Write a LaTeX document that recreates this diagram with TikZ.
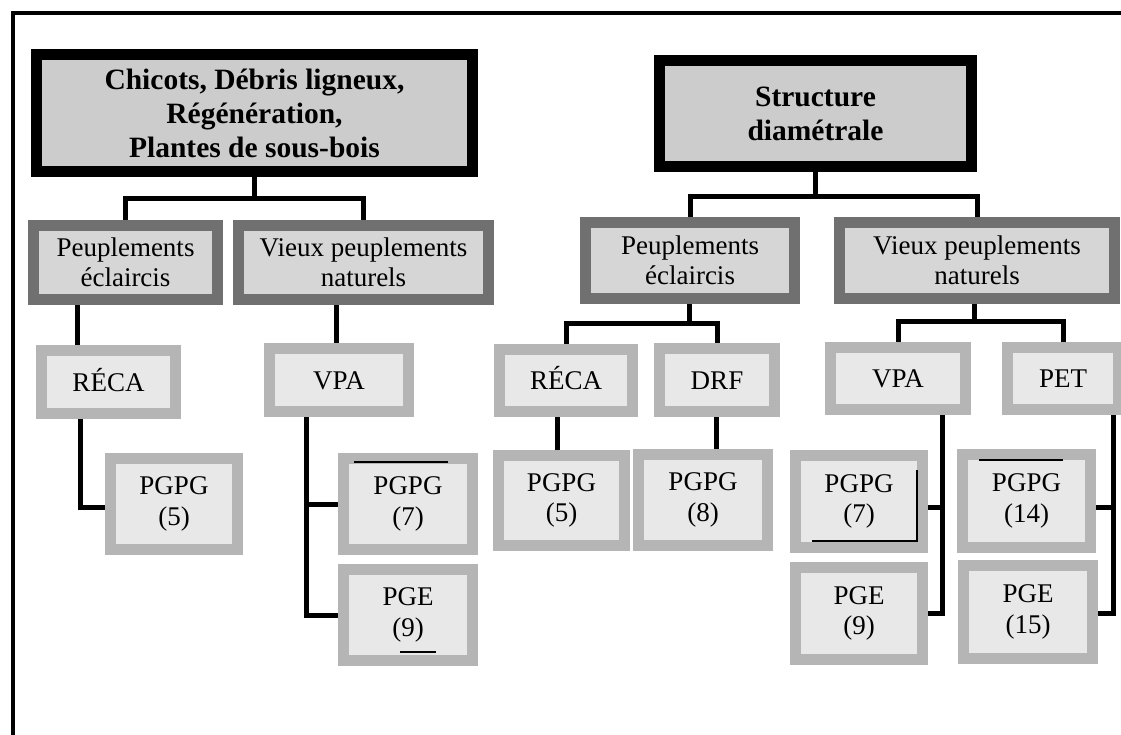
\documentclass[tikz,border=0pt]{standalone}
\usepackage{fontspec}
\setmainfont{Liberation Serif}
\usetikzlibrary{backgrounds,calc}
\definecolor{topfill}{gray}{0.80}
\definecolor{midline}{gray}{0.44}
\definecolor{midfill}{gray}{0.84}
\definecolor{lowline}{gray}{0.71}
\definecolor{lowfill}{gray}{0.91}
\begin{document}
\begin{tikzpicture}[x=1pt,y=-1pt,
  topbox/.style={draw=black, fill=topfill, line width=11pt, inner sep=0pt, align=center,
    font=\fontsize{29.5}{34}\selectfont\bfseries},
  midbox/.style={draw=midline, fill=midfill, line width=11pt, inner sep=0pt, align=center,
    font=\fontsize{27}{30.5}\selectfont},
  lowbox/.style={draw=lowline, fill=lowfill, line width=11pt, inner sep=0pt, align=center,
    font=\fontsize{27}{30.5}\selectfont},
  oneline/.style={text height=18pt, text depth=0pt},
  link/.style={draw=black, line width=5pt},
  frameline/.style={draw=black, line width=3.5pt},
  scratch/.style={draw=black, line width=1.3pt}]
\useasboundingbox (0,0) rectangle (1121,735);
\clip (0,0) rectangle (1121,735);
\draw[frameline] (13,760) -- (13,13) -- (1140,13);

% level 1
\node[topbox, minimum width=436pt, minimum height=117pt] (A) at (254.5,113)
  {Chicots, Débris ligneux,\\Régénération,\\Plantes de sous-bois};
\node[topbox, minimum width=312pt, minimum height=106pt] (B) at (815.5,113.5)
  {Structure\\diamétrale};

% level 2
\node[midbox, minimum width=184pt, minimum height=74pt] (C1) at (125.5,262.5) {Peuplements\\éclaircis};
\node[midbox, minimum width=250pt, minimum height=74pt] (C2) at (363.5,262.5) {Vieux peuplements\\naturels};
\node[midbox, minimum width=209pt, minimum height=76pt] (C3) at (690,260.5) {Peuplements\\éclaircis};
\node[midbox, minimum width=275pt, minimum height=76pt] (C4) at (977,260.5) {Vieux peuplements\\naturels};

% level 3
\node[lowbox, oneline, minimum width=134pt, minimum height=63pt] (D1) at (108.5,382) {RÉCA};
\node[lowbox, oneline, minimum width=139pt, minimum height=63pt] (D2) at (339,380) {VPA};
\node[lowbox, oneline, minimum width=133pt, minimum height=62pt] (D3) at (566,380.5) {RÉCA};
\node[lowbox, oneline, minimum width=115pt, minimum height=63pt] (D4) at (717,380) {DRF};
\node[lowbox, oneline, minimum width=135pt, minimum height=62pt] (D5) at (898,378.5) {VPA};
\node[lowbox, oneline, minimum width=111pt, minimum height=62pt] (D6) at (1063,378.5) {PET};

% level 4
\node[lowbox, minimum width=127pt, minimum height=91pt] (E1) at (174,504) {PGPG\\(5)};
\node[lowbox, minimum width=129pt, minimum height=91pt] (E2) at (408,504) {PGPG\\(7)};
\node[lowbox, minimum width=129pt, minimum height=91pt] (E3) at (408,615) {PGE\\(9)};
\node[lowbox, minimum width=126pt, minimum height=90pt] (E4) at (561.5,500.5) {PGPG\\(5)};
\node[lowbox, minimum width=129pt, minimum height=91pt] (E5) at (703,500) {PGPG\\(8)};
\node[lowbox, minimum width=127pt, minimum height=92pt] (E6) at (859,501.5) {PGPG\\(7)};
\node[lowbox, minimum width=127pt, minimum height=92pt] (E7) at (859,613.5) {PGE\\(9)};
\node[lowbox, minimum width=128pt, minimum height=93pt] (E8) at (1026.5,501) {PGPG\\(14)};
\node[lowbox, minimum width=129pt, minimum height=93pt] (E9) at (1028,612) {PGE\\(15)};

% junctions
\coordinate (jA) at (255,199);
\coordinate (jB) at (815,197);
\coordinate (jC3) at (689,323);
\coordinate (jC4) at (974,321);

\begin{pgfonlayer}{background}
  \fill[white] (0,0) rectangle (1121,735);
  \draw[link] (A.south) -- (A.south |- jA);
  \draw[link] (C1.north) |- (jA) -| (C2.north);
  \draw[link] (B.south) -- (B.south |- jB);
  \draw[link] (C3.north) |- (jB) -| (C4.north);
  \draw[link] (C3.south -| jC3) -- (jC3);
  \draw[link] (D3.north) |- (jC3) -| (D4.north);
  \draw[link] (C4.south -| jC4) -- (jC4);
  \draw[link] (D5.north) |- (jC4) -| (D6.north);

  \draw[link] (C1.south -| 77,0) -- (D1.north -| 77,0);
  \draw[link] (D1.south -| 80,0) |- ($(E1.west)+(0,3)$);
  \draw[link] (C2.south -| 336,0) -- (D2.north -| 336,0);
  \draw[link] (D2.south -| 306,0) |- (E2.west);
  \draw[link] (D2.south -| 306,0) |- (E3.west);
  \draw[link] (D3.south -| 557,0) -- (E4.north -| 557,0);
  \draw[link] (D4.south -| 716,0) -- (E5.north -| 716,0);
  \draw[link] (D5.south -| 942,0) |- ($(E6.east)+(0,5.5)$);
  \draw[link] (D5.south -| 942,0) |- (E7.east);
  \draw[link] (D6.south -| 1113,0) |- ($(E8.east)+(0,6)$);
  \draw[link] (D6.south -| 1113,0) |- ($(E9.east)+(0,1)$);
\end{pgfonlayer}

% scan marks visible in the reference
\draw[scratch] (354,462) -- (448,462);
\draw[scratch] (979,460) -- (1063,460);
\draw[scratch] (812,541) -- (917,541) -- (917,470);
\draw[scratch] (400,652) -- (436,652);
\end{tikzpicture}
\end{document}
